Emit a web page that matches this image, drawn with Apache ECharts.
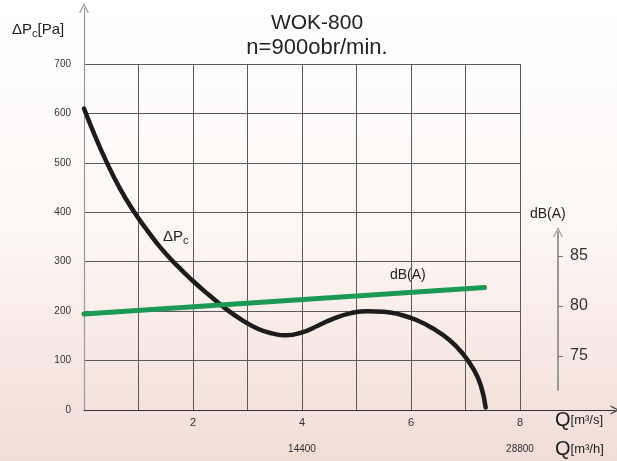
<!DOCTYPE html>
<html>
<head>
<meta charset="utf-8">
<script src="https://cdn.jsdelivr.net/npm/echarts@6/dist/echarts.min.js"></script>
<style>
html, body { margin: 0; padding: 0; }
#chart { width: 617px; height: 461px; }
</style>
</head>
<body>
<div id="chart"></div>
<script>
// Q [m3/s] vs dP_c [Pa]
const pressure = [
  [0, 610], [0.2, 555], [0.4, 505], [0.65, 450], [0.9, 404], [1.15, 365],
  [1.4, 329], [1.7, 293], [2.0, 261], [2.3, 232], [2.6, 205], [2.9, 182],
  [3.2, 164], [3.45, 155], [3.7, 151], [4.0, 157], [4.3, 171], [4.6, 186],
  [4.9, 196], [5.2, 200], [5.5, 199], [5.8, 193], [6.1, 182], [6.4, 165],
  [6.7, 142], [6.95, 114], [7.15, 82], [7.28, 50], [7.37, 5]
]
// Q [m3/s] vs dB(A)
const noise = [[0, 79.2], [7.35, 81.9]]
const qTicks = [2, 4, 6, 8]
const qHourTicks = [4, 8]
const dbTicks = [75, 80, 85]

const font = 'Liberation Sans, Arial, sans-serif'
const chevron = 'path://M0,10 L5,0 L10,10 L8.6,10 L5,2.6 L1.4,10 Z'

let Mycharts = echarts.init(document.getElementById('chart'))
let option = {
    animation: false,
    title: [
        { text: 'WOK-800', left: 312, top: 8, textAlign: 'center',
          textStyle: { fontFamily: font, fontSize: 21, fontWeight: 'normal', color: '#222' } },
        { text: 'n=900obr/min.', left: 312, top: 32, textAlign: 'center',
          textStyle: { fontFamily: font, fontSize: 22, fontWeight: 'normal', color: '#222' } }
    ],
    graphic: [
        {
            type: 'rect', z: -10, silent: true,
            shape: { x: 0, y: 0, width: 617, height: 461 },
            style: {
                fill: new echarts.graphic.LinearGradient(0, 0, 0, 1, [
                    { offset: 0, color: '#ffffff' },
                    { offset: 0.5, color: '#fcf7f5' },
                    { offset: 0.8, color: '#f6e7e1' },
                    { offset: 1, color: '#f0ddd6' }
                ])
            }
        },
        {
            type: 'text', left: 12, top: 22,
            style: {
                text: '{a|ΔP}{s|c}{a|[Pa]}',
                rich: {
                    a: { fontFamily: font, fontSize: 15, fill: '#222' },
                    s: { fontFamily: font, fontSize: 11, fill: '#222', padding: [8, 0, 0, 0] }
                }
            }
        },
        {
            type: 'text', left: 163, top: 229,
            style: {
                text: '{a|ΔP}{s|c}',
                rich: {
                    a: { fontFamily: font, fontSize: 15, fill: '#222' },
                    s: { fontFamily: font, fontSize: 11, fill: '#222', padding: [8, 0, 0, 0] }
                }
            }
        },
        { type: 'text', left: 390, top: 268,
          style: { text: 'dB(A)', fontFamily: font, fontSize: 14, fill: '#222' } },
        { type: 'text', left: 530, top: 207,
          style: { text: 'dB(A)', fontFamily: font, fontSize: 14, fill: '#222' } },
        {
            type: 'text', left: 555, top: 410,
            style: {
                text: '{q|Q}{u|[m³/s]}',
                rich: { q: { fontFamily: font, fontSize: 20, fill: '#222' },
                        u: { fontFamily: font, fontSize: 13, fill: '#222' } }
            }
        },
        {
            type: 'text', left: 555, top: 439,
            style: {
                text: '{q|Q}{u|[m³/h]}',
                rich: { q: { fontFamily: font, fontSize: 20, fill: '#222' },
                        u: { fontFamily: font, fontSize: 13, fill: '#222' } }
            }
        }
    ],
    grid: [
        { left: 84, top: 64, width: 436, height: 346 },
        { left: 84, top: 8, right: 2, bottom: 51 },
        { left: 558, top: 232, width: 1, height: 158 }
    ],
    xAxis: [
        {
            gridIndex: 0, type: 'value', min: 0, max: 8, interval: 1,
            axisLine: { show: false }, axisTick: { show: false },
            splitLine: { show: true, lineStyle: { color: '#5a5a5a', width: 1 } },
            axisLabel: { customValues: qTicks, margin: 7, fontFamily: font, fontSize: 11, color: '#333' }
        },
        {
            gridIndex: 0, type: 'value', min: 0, max: 8, position: 'bottom', offset: 26,
            axisLine: { show: false }, axisTick: { show: false }, splitLine: { show: false },
            axisLabel: { customValues: qHourTicks, formatter: v => String(v * 3600),
                         fontFamily: font, fontSize: 10, color: '#333' }
        },
        {
            gridIndex: 1, type: 'value', min: 0, max: 1,
            axisLabel: { show: false }, axisTick: { show: false }, splitLine: { show: false },
            axisLine: { show: true, symbol: ['none', chevron], symbolSize: [9, 12],
                        lineStyle: { color: '#333', width: 1.2 } }
        },
        {
            gridIndex: 2, type: 'value', show: false, min: 0, max: 1
        }
    ],
    yAxis: [
        {
            gridIndex: 0, type: 'value', min: 0, max: 700, interval: 100,
            axisLine: { show: false }, axisTick: { show: false },
            splitLine: { show: true, lineStyle: { color: '#5a5a5a', width: 1 } },
            axisLabel: { margin: 13, fontFamily: font, fontSize: 10, color: '#333' }
        },
        {
            gridIndex: 0, type: 'value', min: 69.5, max: 104.5, show: false
        },
        {
            gridIndex: 1, type: 'value', min: 0, max: 1,
            axisLabel: { show: false }, axisTick: { show: false }, splitLine: { show: false },
            axisLine: { show: true, symbol: ['none', chevron], symbolSize: [10, 13],
                        lineStyle: { color: '#999', width: 1.2 } }
        },
        {
            gridIndex: 2, type: 'value', min: 71.6, max: 87.4,
            splitLine: { show: false },
            axisLine: { show: true, symbol: ['none', chevron], symbolSize: [10, 13],
                        lineStyle: { color: '#9a9a9a', width: 2 } },
            axisTick: { show: true, inside: true, customValues: dbTicks, length: 5,
                        lineStyle: { color: '#777' } },
            axisLabel: { inside: true, customValues: dbTicks, margin: 12,
                         fontFamily: font, fontSize: 16, color: '#333' }
        }
    ],
    series: [
        {
            name: 'ΔPc', type: 'line', xAxisIndex: 0, yAxisIndex: 0,
            data: pressure, smooth: 0.5, symbol: 'none',
            lineStyle: { color: '#1c1c1c', width: 4.5, cap: 'round', join: 'round' }
        },
        {
            name: 'dB(A)', type: 'line', xAxisIndex: 0, yAxisIndex: 1,
            data: noise, symbol: 'none',
            lineStyle: { color: '#1c9a55', width: 5, cap: 'round' }
        }
    ]
}
Mycharts.setOption(option)
</script>
</body>
</html>
